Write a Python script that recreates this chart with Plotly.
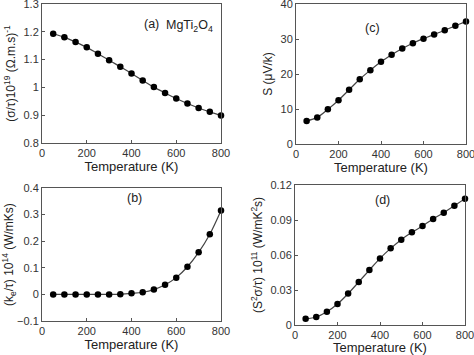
import plotly.graph_objects as go

temperature = [50, 100, 150, 200, 250, 300, 350, 400, 450, 500, 550, 600, 650, 700, 750, 800]
sigma_tau = [1.193, 1.180, 1.163, 1.144, 1.121, 1.098, 1.074, 1.050, 1.025, 1.001,
             0.980, 0.960, 0.942, 0.926, 0.912, 0.899]
seebeck = [6.6, 7.6, 9.9, 12.5, 15.5, 18.5, 21.1, 23.5, 25.5, 27.3,
           28.8, 30.1, 31.3, 32.5, 33.8, 35.0]
kappa_e = [0.0, 0.0, 0.0, 0.0, 0.0, 0.0, 0.001, 0.004, 0.008, 0.018,
           0.036, 0.063, 0.104, 0.158, 0.226, 0.315]
power_factor = [0.0054, 0.0069, 0.0114, 0.0180, 0.0269, 0.0369, 0.0471, 0.0571, 0.0657, 0.0731,
                0.0794, 0.0849, 0.0909, 0.0963, 0.1023, 0.1083]

W, H = 474, 355
fig = go.Figure()

def px_x(a, b):
    return [a / W, b / W]

def px_y(top, bottom):
    return [1 - bottom / H, 1 - top / H]

panels = [
    (sigma_tau, (42, 221), (4, 143), [0.8, 1.3], 0.1,
     "(σ/τ)10<sup>19</sup> (Ω.m.s)<sup>-1</sup>"),
    (seebeck, (296, 466), (4, 144), [0, 40], 10, "S (μV/k)"),
    (kappa_e, (42, 221), (188, 321), [-0.1, 0.4], 0.1,
     "(k<sub>e</sub>/τ) 10<sup>14</sup> (W/mKs)"),
    (power_factor, (295, 465), (185, 325), [0, 0.12], 0.03,
     "(S<sup>2</sup>σ/τ) 10<sup>11</sup> (W/mK<sup>2</sup>s)"),
]

font = "Liberation Sans, Arial, sans-serif"
for i, (vals, xd, yd, yr, dt, yt) in enumerate(panels, start=1):
    xa = "x" if i == 1 else f"x{i}"
    ya = "y" if i == 1 else f"y{i}"
    fig.add_trace(go.Scatter(
        x=temperature, y=vals, xaxis=xa, yaxis=ya, mode="lines+markers",
        line=dict(color="#444444", width=1.2, shape="spline"),
        marker=dict(color="black", size=6.5), showlegend=False, cliponaxis=False))
    common = dict(showline=True, linecolor="#555555", linewidth=1, mirror=True,
                  ticks="inside", ticklen=3, tickcolor="#555555",
                  showgrid=False, zeroline=False, automargin=False,
                  ticklabeloverflow="allow",
                  tickfont=dict(size=11, color="#333333", family=font))
    fig.layout[("xaxis" if i == 1 else f"xaxis{i}")] = dict(
        domain=px_x(*xd), range=[0, 800], dtick=200, anchor=ya,
        title=dict(text="Temperature (K)", font=dict(size=13, color="#222222", family=font), standoff=3),
        **common)
    fig.layout[("yaxis" if i == 1 else f"yaxis{i}")] = dict(
        domain=px_y(*yd), range=yr, dtick=dt, anchor=xa,
        title=dict(text=yt, font=dict(size=12, color="#222222", family=font), standoff=5),
        **common)

annots = [
    ("(a)", 142, 15),
    ("MgTi<sub>2</sub>O<sub>4</sub>", 189, 16),
    ("(c)", 382, 19),
    ("(b)", 125, 198),
    ("(d)", 392, 200),
]
for text, px, py in annots:
    fig.add_annotation(text=text, xref="paper", yref="paper", x=px / W, y=1 - py / H,
                       showarrow=False, font=dict(size=12.5, color="#222222", family=font))

fig.update_layout(width=W, height=H, margin=dict(l=0, r=0, t=0, b=0),
                  paper_bgcolor="white", plot_bgcolor="white")
fig.write_html("out.html", config={"displayModeBar": False},
               post_script="document.body.style.margin='0';document.body.style.padding='0';")
